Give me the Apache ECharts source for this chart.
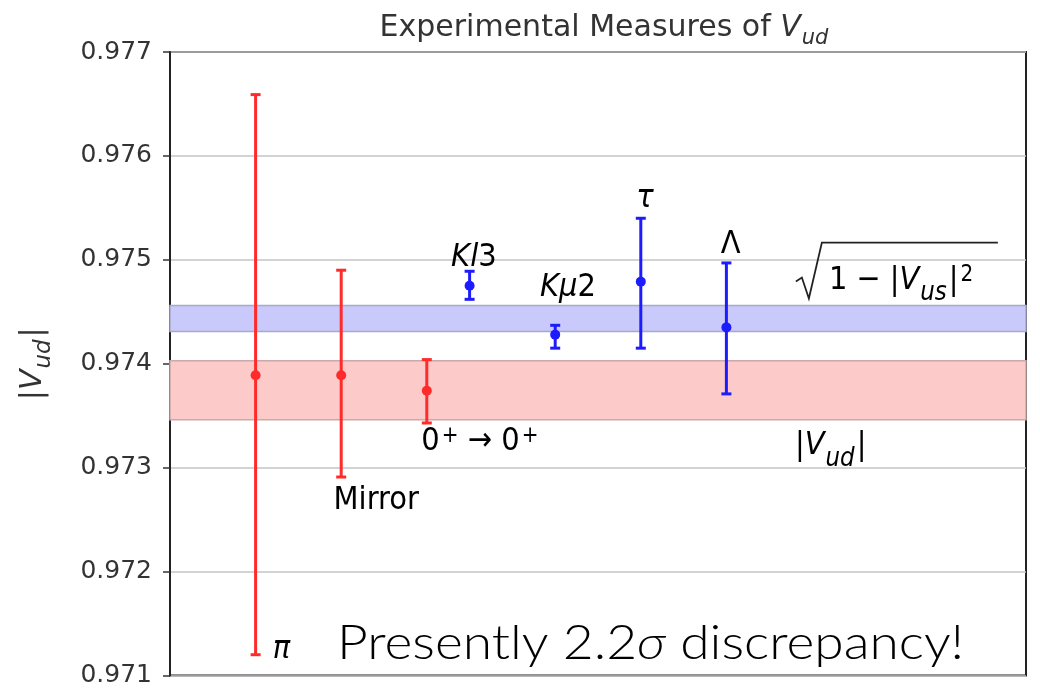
<!DOCTYPE html>
<html><head><meta charset="utf-8">
<script src="https://cdn.jsdelivr.net/npm/echarts@6/dist/echarts.min.js"></script>
<style>html,body{margin:0;padding:0;background:#fff}#c{width:1040px;height:688px}</style>
</head><body><div id="c"></div>
<script>
// ---- data ----
const measurements = ['π', 'Mirror', '0+→0+', 'Kl3', 'Kμ2', 'τ', 'Λ'];
const xPos    = [1, 2, 3, 3.5, 4.5, 5.5, 6.5];
const central = [0.97389, 0.97389, 0.97374, 0.97475, 0.97428, 0.97479, 0.97435];
const upper   = [0.97659, 0.97490, 0.97404, 0.97489, 0.97437, 0.97540, 0.97497];
const lower   = [0.97120, 0.97291, 0.97343, 0.97462, 0.97415, 0.97415, 0.97371];
const group   = [0, 0, 0, 1, 1, 1, 1]; // 0 = red (Vud), 1 = blue (sqrt(1-|Vus|^2))
const vusBand = [0.97431, 0.97456];
const vudBand = [0.97346, 0.97403];
const yMin = 0.971, yMax = 0.977, yStep = 0.001;
const xMin = 0, xMax = 10;
// annotation anchors in data units
const annoText = ['pi', 'Mirror', 'zero', 'Kl3', 'Kmu2', 'tau', 'Lambda', 'sqrt', 'Vud', 'note'];
const annoX = [1.2, 2.41, 3.62, 3.55, 4.65, 5.55, 6.55, 7.30, 7.30, 1.95];
const annoY = [0.97129, 0.97272, 0.97329, 0.97506, 0.97477, 0.97563, 0.97518, 0.97482, 0.97325, 0.97131];

// ---- styles ----
const COLORS = ['#ff2b2b', '#1c1cff'];
const F = 'DejaVu Sans';
const FS = 29;
function richSet(fs, color, subScale) {
  color = color || '#222';
  subScale = subScale || 0.72;
  const base = { fontFamily: F, color: color, fontWeight: 'normal', verticalAlign: 'top' };
  const ss = Math.round(fs * subScale);
  return {
    n: Object.assign({}, base, { fontSize: fs, lineHeight: fs + 4 }),
    m: Object.assign({}, base, { fontSize: fs, lineHeight: fs + 4, padding: [0, Math.round(fs * 0.3), 0, Math.round(fs * 0.3)] }),
    i: Object.assign({}, base, { fontSize: fs, fontStyle: 'italic', lineHeight: fs + 4 }),
    s: Object.assign({}, base, { fontSize: ss, fontStyle: 'italic', lineHeight: ss, padding: [Math.round(fs * 0.5), 2, 0, 1] }),
    p: Object.assign({}, base, { fontSize: Math.round(fs * 0.7), lineHeight: Math.round(fs * 0.42), padding: [0, 0, 0, 2] })
  };
}
const annoDefs = {
  pi:     { t: '{i|π}', align: 'left' },
  Mirror: { t: '{n|Mirror}', align: 'center' },
  zero:   { t: '{n|0}{p|+}{n| → 0}{p|+}', align: 'center' },
  Kl3:    { t: '{i|Kl}{n|3}', align: 'center' },
  Kmu2:   { t: '{i|Kμ}{n|2}', align: 'center' },
  tau:    { t: '{i|τ}', align: 'center' },
  Lambda: { t: '{n|Λ}', align: 'center' },
  sqrt:   { t: '{n|1}{m|−}{n||}{i|V}{s|us}{n||}{p|2}', align: 'left', radical: true },
  Vud:    { t: '{n||}{i|V}{s|ud}{n||}', align: 'left' },
  note:   { t: '{big|Presently 2.2}{bigi|σ}{big| discrepancy!}', align: 'left', big: true }
};

const chart = echarts.init(document.getElementById('c'), null, { renderer: 'canvas' });

const barData = xPos.map((x, k) => [x, central[k], lower[k], upper[k], group[k]]);
const bandData = [[vudBand[0], vudBand[1], 0], [vusBand[0], vusBand[1], 1]];
const annoData = annoX.map((x, k) => [x, annoY[k], k]);

const BIGF = 'Lato, "Open Sans", sans-serif';
const richAll = Object.assign({}, richSet(FS, '#222', 0.8), {
  big: { fontFamily: BIGF, fontSize: 48, fontWeight: 300, color: '#000' },
  bigi: { fontFamily: BIGF, fontSize: 48, fontWeight: 300, color: '#000', fontStyle: 'italic' }
});

chart.setOption({
  animation: false,
  backgroundColor: '#fff',
  title: {
    text: '{n|Experimental Measures of }{i|V}{s|ud}',
    left: 600, top: 8, textAlign: 'center',
    textStyle: { fontWeight: 'normal', rich: richSet(30, '#333', 0.7) }
  },
  grid: { left: 170, right: 14, top: 52, bottom: 9, show: true, borderColor: '#222', borderWidth: 2, backgroundColor: 'transparent' },
  xAxis: { type: 'value', min: xMin, max: xMax, show: false },
  yAxis: {
    type: 'value', min: yMin, max: yMax, interval: yStep,
    name: '{n||}{i|V}{s|ud}{n||}', nameLocation: 'middle', nameGap: 118, nameRotate: 90,
    nameTextStyle: { rich: richSet(30, '#333', 0.75) },
    axisLine: { show: true, lineStyle: { color: '#222', width: 2 } },
    axisTick: { show: true, length: 7, lineStyle: { color: '#333', width: 1.5 } },
    axisLabel: { fontFamily: F, fontSize: 25, color: '#333', margin: 18, formatter: v => v.toFixed(3) },
    splitLine: { show: true, lineStyle: { color: '#c4c4c4', width: 1.5 } }
  },
  series: [
    {
      type: 'custom', z: 1, data: bandData,
      renderItem: (params, api) => {
        const p0 = api.coord([xMin, api.value(1)]);
        const p1 = api.coord([xMax, api.value(0)]);
        const g = api.value(2);
        return {
          type: 'rect',
          shape: { x: p0[0], y: p0[1], width: p1[0] - p0[0], height: p1[1] - p0[1] },
          style: { fill: g ? '#c9c9fb' : '#fdcaca', stroke: g ? '#a9a9c9' : '#c9a9a9', lineWidth: 1.5 }
        };
      }
    },
    {
      type: 'custom', z: 3, data: barData,
      renderItem: (params, api) => {
        const x = api.value(0);
        const c = api.coord([x, api.value(1)]);
        const lo = api.coord([x, api.value(2)]);
        const hi = api.coord([x, api.value(3)]);
        const col = COLORS[api.value(4)];
        const cap = 5;
        const ls = { stroke: col, lineWidth: 3 };
        return {
          type: 'group', children: [
            { type: 'line', shape: { x1: c[0], y1: lo[1], x2: c[0], y2: hi[1] }, style: ls },
            { type: 'line', shape: { x1: c[0] - cap, y1: lo[1], x2: c[0] + cap, y2: lo[1] }, style: ls },
            { type: 'line', shape: { x1: c[0] - cap, y1: hi[1], x2: c[0] + cap, y2: hi[1] }, style: ls },
            { type: 'circle', shape: { cx: c[0], cy: c[1], r: 5 }, style: { fill: col } }
          ]
        };
      }
    },
    {
      type: 'custom', z: 4, data: annoData, silent: true,
      renderItem: (params, api) => {
        const p = api.coord([api.value(0), api.value(1)]);
        const d = annoDefs[annoText[api.value(2)]];
        const children = [];
        if (d.radical) {
          const x0 = p[0], y0 = p[1];
          children.push({ type: 'polyline', shape: { points: [[x0 + 1, y0 + 3], [x0 + 7, y0 - 1], [x0 + 14, y0 + 20], [x0 + 27, y0 - 36], [x0 + 203, y0 - 36]] }, style: { stroke: '#222', lineWidth: 1.8, fill: null } });
          children.push({ type: 'text', x: x0 + 34, y: y0 + 4, scaleY: 1.12, style: { text: d.t, rich: richAll, align: 'left', verticalAlign: 'middle' } });
        } else if (d.big) {
          children.push({ type: 'text', x: p[0], y: p[1], scaleX: 1.11, style: { text: d.t, rich: richAll, align: 'left', verticalAlign: 'middle' } });
        } else {
          children.push({ type: 'text', x: p[0], y: p[1] + 6, scaleY: 1.12, style: { text: d.t, rich: richAll, align: d.align, verticalAlign: 'middle' } });
        }
        return { type: 'group', children };
      }
    }
  ]
});
</script>
</body></html>
